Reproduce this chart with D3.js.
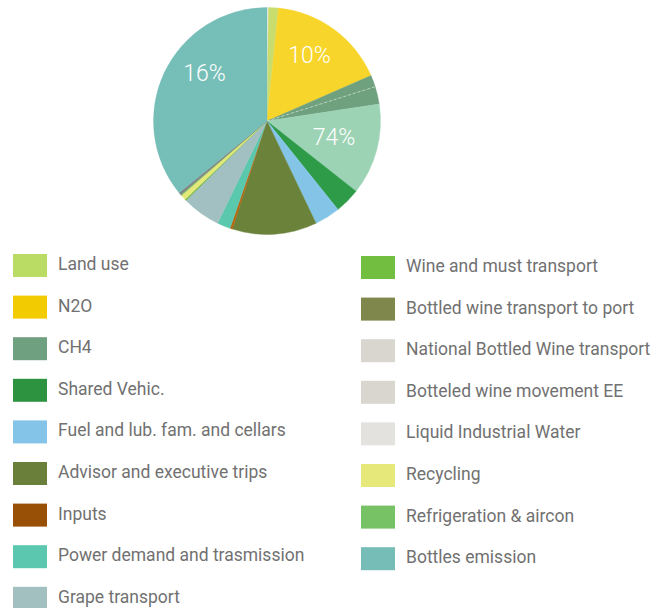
<!DOCTYPE html>
<html>
<head>
<meta charset="utf-8">
<script src="https://cdn.jsdelivr.net/npm/d3@7"></script>
<style>
  body { margin: 0; background: #fff; }
  #chart { width: 653px; height: 608px; }
  .legend text { font-family: Roboto, sans-serif; font-size: 17.5px; fill: #717171; }
  .pct { font-family: Roboto, sans-serif; font-weight: 300; font-size: 23px; fill: #fff; }
</style>
</head>
<body>
<div id="chart"></div>
<script>
// pie slices, clockwise from 12 o'clock
var sliceNames = ["Liquid Industrial Water", "Land use", "N2O", "CH4", "CH4 (b)", "Other",
    "Shared Vehic.", "Fuel and lub. fam. and cellars", "Advisor and executive trips", "Inputs",
    "Power demand and trasmission", "Grape transport", "Wine and must transport", "Recycling",
    "Refrigeration & aircon", "Other (grey)", "Bottles emission"];
var sliceValues = [0.7, 5.1, 60.6, 6.0, 9.0, 46.9, 13.0, 13.1, 43.4, 1.2, 6.8, 19.7, 0.8, 2.6, 0.6, 1.3, 129.2];
var sliceColors = ["#f4f4f0", "#c9dc6e", "#f8d52a", "#6fa17f", "#6fa17f", "#9dd3b5",
    "#2e9b48", "#84c4e6", "#6b823b", "#b8650f", "#5ac8ad", "#a2c0c1", "#72b94a", "#e5e97a",
    "#7bc064", "#808585", "#76beb8"];

// group labels
var pctLabels = ["10%", "74%", "16%"];

// legend
var leftNames = ["Land use", "N2O", "CH4", "Shared Vehic.", "Fuel and lub. fam. and cellars",
    "Advisor and executive trips", "Inputs", "Power demand and trasmission", "Grape transport"];
var leftColors = ["#badb64", "#f2cb00", "#6fa07f", "#2e9340", "#84c4e8", "#6a7f3a", "#985006", "#5bc7ae", "#a3c0c1"];
var rightNames = ["Wine and must transport", "Bottled wine transport to port", "National Bottled Wine transport",
    "Botteled wine movement EE", "Liquid Industrial Water", "Recycling", "Refrigeration & aircon", "Bottles emission"];
var rightColors = ["#72be41", "#80874c", "#d9d6cf", "#d9d6cf", "#e3e2de", "#e6e87a", "#76c264", "#76bdb8"];

var width = 653, height = 608;
var cx = 267, cy = 121, radius = 113.5;

var svg = d3.select("#chart")
    .append("svg")
    .attr("width", width)
    .attr("height", height);

var pie = d3.pie().sort(null).value(function(d) { return d; });
var arcs = pie(sliceValues);

var arc = d3.arc().innerRadius(0).outerRadius(radius);

var g = svg.append("g")
    .attr("transform", "translate(" + cx + "," + cy + ")");

g.selectAll("path")
    .data(arcs)
    .enter().append("path")
    .attr("d", arc)
    .attr("fill", function(d, i) { return sliceColors[i]; })
    .attr("stroke", function(d, i) { return sliceColors[i]; })
    .attr("stroke-width", 0.4);

// dashed divider between the two CH4 pieces
var p = d3.pointRadial(arcs[4].startAngle, radius);
g.append("line")
    .attr("x1", 0).attr("y1", 0)
    .attr("x2", p[0]).attr("y2", p[1])
    .attr("stroke", "#ffffff")
    .attr("stroke-opacity", 0.6)
    .attr("stroke-width", 0.8)
    .attr("stroke-dasharray", "3,2");

// percentage labels
var labelPos = [[42.5, -58], [67, 24], [-62.5, -40]];
g.selectAll(".pct")
    .data(pctLabels)
    .enter().append("text")
    .attr("class", "pct")
    .attr("x", function(d, i) { return labelPos[i][0]; })
    .attr("y", function(d, i) { return labelPos[i][1]; })
    .attr("text-anchor", "middle")
    .text(function(d) { return d; });

// legend columns
var rowStep = 41.6;
var legend = svg.append("g").attr("class", "legend");

function drawColumn(names, colors, x0, y0) {
    var rows = legend.append("g")
        .selectAll("g")
        .data(names)
        .enter().append("g")
        .attr("transform", function(d, i) { return "translate(" + x0 + "," + (y0 + i * rowStep) + ")"; });

    rows.append("rect")
        .attr("width", 34)
        .attr("height", 23)
        .attr("fill", function(d, i) { return colors[i]; });

    rows.append("text")
        .attr("x", 45)
        .attr("y", 16)
        .text(function(d) { return d; });
}

drawColumn(leftNames, leftColors, 13, 254);
drawColumn(rightNames, rightColors, 361, 256);
</script>
</body>
</html>
